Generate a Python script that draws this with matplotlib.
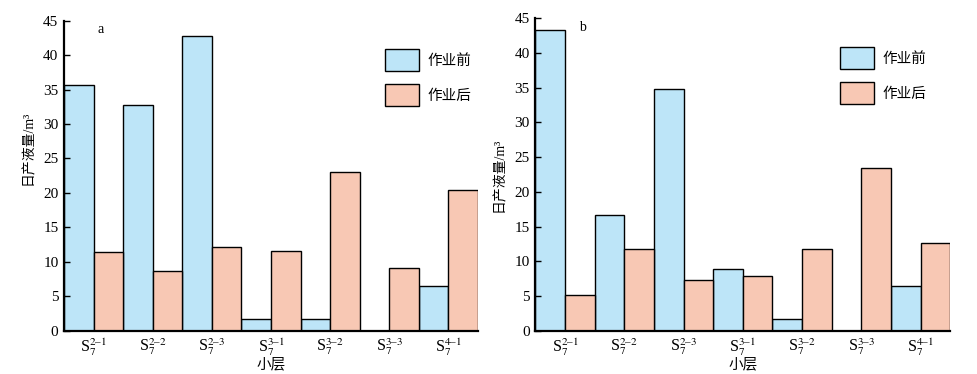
import matplotlib
matplotlib.use("Agg")
import matplotlib.pyplot as plt
import numpy as np

plt.rcParams['font.family'] = ['Liberation Serif', 'Noto Sans CJK SC']
plt.rcParams['mathtext.fontset'] = 'stix'

layers = ["2-1", "2-2", "2-3", "3-1", "3-2", "3-3", "4-1"]
tick_labels = [r"S$_7^{%s}$" % s.replace("-", "\u2013") for s in layers]

a_before = [35.6, 32.7, 42.7, 1.65, 1.65, 0.0, 6.5]
a_after = [11.4, 8.6, 12.1, 11.5, 23.0, 9.05, 20.4]
b_before = [43.4, 16.6, 34.8, 8.85, 1.63, 0.0, 6.45]
b_after = [5.1, 11.7, 7.25, 7.85, 11.7, 23.4, 12.6]

c_before = "#bde5f8"
c_after = "#f8c8b4"

fig = plt.figure(figsize=(9.77, 3.74), dpi=100)
ax1 = fig.add_axes([0.0655, 0.1158, 0.4238, 0.829])
ax2 = fig.add_axes([0.548, 0.1158, 0.4245, 0.835])

# ax, before, after, tag, tag x, legend x, ylabel y
panels = [(ax1, a_before, a_after, "a", 0.08, 0.775, 0.59),
          (ax2, b_before, b_after, "b", 0.105, 0.735, 0.5)]

x = np.arange(len(layers))
for ax, before, after, tag, tx, lx, yly in panels:
    ax.bar(x - 0.25, before, width=0.5, color=c_before, edgecolor="black",
           linewidth=1.0, label="作业前")
    ax.bar(x + 0.25, after, width=0.5, color=c_after, edgecolor="black",
           linewidth=1.0, label="作业后")
    ax.set_xlim(-0.5, 6.5)
    ax.set_ylim(0, 45)
    ax.set_yticks(np.arange(0, 46, 5))
    ax.set_xticks(x)
    ax.set_xticklabels(tick_labels, fontsize=11.5)
    ax.tick_params(axis="x", length=0, pad=4)
    ax.tick_params(axis="y", direction="in", length=4, width=1.0,
                   labelsize=11, pad=4)
    for s in ["top", "right"]:
        ax.spines[s].set_visible(False)
    for s in ["left", "bottom"]:
        ax.spines[s].set_linewidth(1.6)
    ax.set_xlabel("小层", fontsize=10.5, labelpad=0)
    ax.set_ylabel("日产液量/m³", fontsize=10)
    ax.yaxis.set_label_coords(-0.07, yly)
    ax.text(tx, 0.97, tag, transform=ax.transAxes, fontsize=10,
            ha="left", va="center")
    ax.legend(loc="upper left", bbox_to_anchor=(lx, 0.909), frameon=False,
              fontsize=10.5, handlelength=2.35, handleheight=2.0,
              labelspacing=0.85, handletextpad=0.55, borderpad=0,
              borderaxespad=0)

fig.savefig("out.png", dpi=100)
